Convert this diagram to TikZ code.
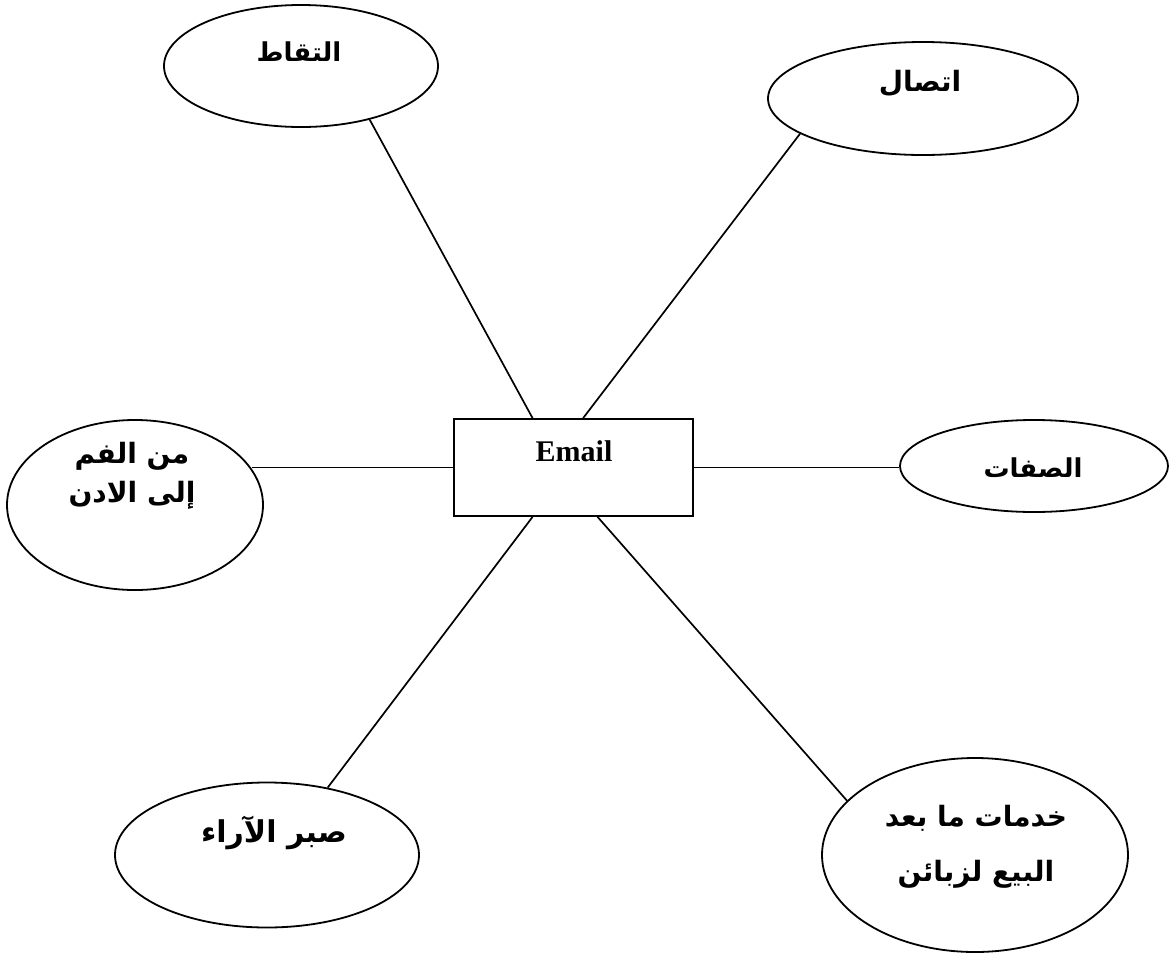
\documentclass[tikz,border=0pt]{standalone}
\usepackage{fontspec}
\usetikzlibrary{shapes.geometric,calc}
\TeXXeTstate=1
\newfontfamily\arabicfont[Script=Arabic]{DejaVu Sans}
\newfontfamily\emailfont{Liberation Serif}
\tikzset{
  oval/.style={ellipse, draw=black, line width=1.8pt, inner sep=0pt},
  hubbox/.style={rectangle, draw=black, line width=1.8pt, inner sep=0pt,
    minimum width=239pt, minimum height=97pt},
  artext/.style={font=\arabicfont\bfseries\fontsize{28}{39}\selectfont, align=center, inner sep=0pt},
  link/.style={line width=1.7pt, draw=black}
}
\begin{document}
\begin{tikzpicture}[x=1pt,y=-1pt]
  \useasboundingbox (0,0) rectangle (1171,954);

  % central box
  \node[hubbox] (box) at (573.5,467.5) {};
  \node[font=\emailfont\bfseries\fontsize{30}{36}\selectfont, inner sep=0pt] (email) at (574,451) {Email};

  % surrounding ellipses
  \node[oval, minimum width=274pt, minimum height=122pt] (tl) at (301,66) {};
  \node[oval, minimum width=310pt, minimum height=113pt] (tr) at (923,98.5) {};
  \node[oval, minimum width=256pt, minimum height=170pt] (lf) at (135,505) {};
  \node[oval, minimum width=268pt, minimum height=92pt] (rt) at (1034,466) {};
  \node[oval, minimum width=304pt, minimum height=145pt] (bl) at (267,855) {};
  \node[oval, minimum width=306pt, minimum height=194pt] (br) at (975,855) {};

  % labels
  \node[artext, font=\arabicfont\bfseries\fontsize{26}{39}\selectfont] (tltext) at (299,52) {\beginR التقاط\endR};
  \node[artext] (trtext) at (920,83) {\beginR اتصال\endR};
  \node[artext] (lftext) at (132,476) {\beginR من الفم\endR\\\beginR إلى الادن\endR};
  \node[artext, font=\arabicfont\bfseries\fontsize{26}{39}\selectfont] (rttext) at (1033,468) {\beginR الصفات\endR};
  \node[artext, font=\arabicfont\bfseries\fontsize{30}{39}\selectfont] (bltext) at (274,833) {\beginR صبر الآراء\endR};
  \node[artext, font=\arabicfont\bfseries\fontsize{28}{55}\selectfont] (brtext) at (976,847) {\beginR خدمات ما بعد\endR\\\beginR البيع لزبائن\endR};

  % connectors
  \draw[link] ($(box.north west)!0.33!(box.north east)$) -- (tl.-38);
  \draw[link] ($(box.north west)!0.54!(box.north east)$) -- (tr.196);
  \draw[link] (box.west) -- (lf.17 |- box.west);
  \draw[link] (box.east) -- (rt.west |- box.east);
  \draw[link] ($(box.south west)!0.33!(box.south east)$) -- (bl.48);
  \draw[link] ($(box.south west)!0.60!(box.south east)$) -- (br.157);
\end{tikzpicture}
\end{document}
